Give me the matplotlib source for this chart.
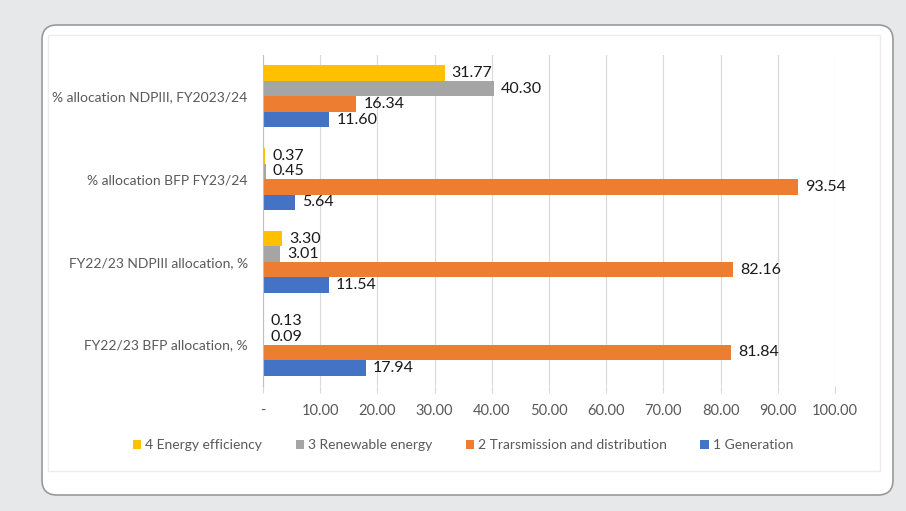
import numpy as np
import matplotlib
matplotlib.use('Agg')
import matplotlib.pyplot as plt
from matplotlib.patches import FancyBboxPatch, Rectangle

plt.rcParams['font.family'] = ['Lato', 'DejaVu Sans']

categories = ['% allocation NDPIII, FY2023/24',
              '% allocation BFP FY23/24',
              'FY22/23 NDPIII allocation, %',
              'FY22/23 BFP allocation, %']
series_names = ['4 Energy efficiency', '3 Renewable energy',
                '2 Trarsmission and distribution', '1 Generation']
energy_eff = [31.77, 0.37, 3.30, 0.13]
renewable = [40.30, 0.45, 3.01, 0.09]
transmission = [16.34, 93.54, 82.16, 81.84]
generation = [11.60, 5.64, 11.54, 17.94]
xticks = [0, 10, 20, 30, 40, 50, 60, 70, 80, 90, 100]
xticklabels = ['-'] + ['%.2f' % t for t in xticks[1:]]

colors = ['#FFC000', '#A5A5A5', '#ED7D31', '#4472C4']

W, H = 906, 511
fig = plt.figure(figsize=(W / 100, H / 100), dpi=100, facecolor='#e7e8ea')

# background panel drawn in pixel coordinates
bg = fig.add_axes([0, 0, 1, 1], zorder=-5)
bg.set_xlim(0, W)
bg.set_ylim(H, 0)
bg.axis('off')
bg.add_patch(FancyBboxPatch((42, 25), 851, 470,
                            boxstyle='round,pad=0,rounding_size=15',
                            facecolor='white', edgecolor='#9a9a9a', lw=1.2))
bg.add_patch(Rectangle((48, 35), 832, 436, facecolor='none',
                       edgecolor='#ececec', lw=1))

ax = fig.add_axes([263 / W, 1 - 386 / H, 572 / W, 331 / H])
ax.set_facecolor('none')

y = np.arange(len(categories))
h = 0.1875
offsets = [-1.5 * h, -0.5 * h, 0.5 * h, 1.5 * h]
all_series = [energy_eff, renewable, transmission, generation]

for vals, off, col, name in zip(all_series, offsets, colors, series_names):
    bars = ax.barh(y + off, vals, height=h, color=col, label=name, zorder=3)
    for b, v in zip(bars, vals):
        ax.annotate('%.2f' % v, (b.get_width(), b.get_y() + b.get_height() / 2),
                    xytext=(5, 0), textcoords='offset points',
                    va='center', ha='left', fontsize=11.5, color='#1a1a1a',
                    zorder=4)

ax.set_ylim(3.5, -0.5)
ax.set_xlim(0, 100)
ax.set_yticks(y)
ax.set_yticklabels(categories, fontsize=10, color='#595959')
ax.set_xticks(xticks)
ax.set_xticklabels(xticklabels, fontsize=10.5, color='#595959')
ax.tick_params(axis='y', length=0, pad=11)
ax.tick_params(axis='x', length=5, color='#d9d9d9', width=0.8, pad=8)
ax.grid(axis='x', color='#d9d9d9', lw=0.8, zorder=0)
for s in ['top', 'right', 'bottom']:
    ax.spines[s].set_visible(False)
ax.spines['left'].set_color('#bfbfbf')
ax.spines['left'].set_zorder(5)

handles, labels = ax.get_legend_handles_labels()
fig.legend(handles, labels, loc='center', bbox_to_anchor=(463 / W, 1 - 445 / H),
           ncol=4, frameon=False, fontsize=10, labelcolor='#595959',
           handlelength=0.6, handleheight=0.6, handletextpad=0.3,
           columnspacing=2.4)

fig.savefig('out.png', dpi=100, facecolor=fig.get_facecolor())
